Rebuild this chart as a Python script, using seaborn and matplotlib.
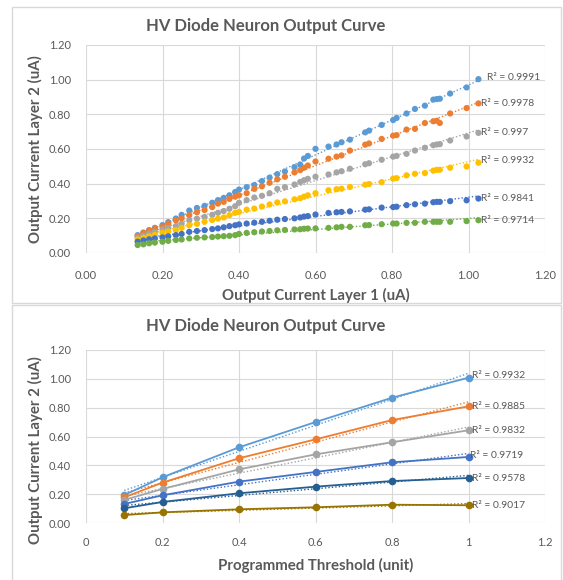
import numpy as np
import pandas as pd
import matplotlib
matplotlib.use("Agg")
import matplotlib.pyplot as plt
from matplotlib.patches import Rectangle
import seaborn as sns

# ---------------- data (top chart) ----------------
layer1_x = [0.135, 0.15, 0.165, 0.18, 0.20, 0.215, 0.235, 0.25, 0.27, 0.29, 0.31, 0.33,
            0.345, 0.36, 0.375, 0.39, 0.40, 0.42, 0.44, 0.46, 0.48, 0.50, 0.52, 0.545,
            0.56, 0.57, 0.58, 0.60, 0.634, 0.655, 0.668, 0.69, 0.73, 0.74, 0.773, 0.803,
            0.812, 0.838, 0.86, 0.886, 0.908, 0.917, 0.925, 0.952, 0.995, 1.026]
s1 = [0.103, 0.118, 0.132, 0.145, 0.161, 0.178, 0.199, 0.22, 0.245, 0.26, 0.272, 0.29,
      0.305, 0.318, 0.333, 0.352, 0.366, 0.38, 0.392, 0.415, 0.435, 0.455, 0.47, 0.495,
      0.51, 0.545, 0.56, 0.601, 0.614, 0.626, 0.639, 0.654, 0.696, 0.706, 0.739, 0.767,
      0.779, 0.805, 0.831, 0.85, 0.885, 0.888, 0.89, 0.92, 0.955, 1.003]
s2 = [0.098, 0.115, 0.13, 0.14, 0.152, 0.17, 0.188, 0.2, 0.218, 0.235, 0.248, 0.265,
      0.285, 0.295, 0.312, 0.325, 0.333, 0.345, 0.37, 0.385, 0.405, 0.425, 0.44, 0.465,
      0.478, 0.492, 0.505, 0.528, 0.544, 0.556, 0.563, 0.591, 0.625, 0.632, 0.658, 0.677,
      0.68, 0.712, 0.716, 0.75, 0.76, 0.763, 0.75, 0.805, 0.836, 0.863]
s3 = [0.088, 0.1, 0.112, 0.122, 0.136, 0.145, 0.155, 0.168, 0.188, 0.198, 0.208, 0.22,
      0.232, 0.242, 0.255, 0.27, 0.29, 0.305, 0.32, 0.33, 0.345, 0.37, 0.38, 0.395,
      0.41, 0.42, 0.428, 0.44, 0.453, 0.465, 0.472, 0.486, 0.512, 0.518, 0.538, 0.556,
      0.56, 0.572, 0.591, 0.607, 0.622, 0.626, 0.628, 0.649, 0.672, 0.693]
s4 = [0.078, 0.088, 0.097, 0.105, 0.117, 0.124, 0.132, 0.145, 0.16, 0.168, 0.18, 0.19,
      0.198, 0.205, 0.218, 0.232, 0.237, 0.25, 0.256, 0.268, 0.28, 0.292, 0.298, 0.31,
      0.316, 0.325, 0.333, 0.345, 0.362, 0.368, 0.371, 0.381, 0.394, 0.398, 0.409, 0.429,
      0.432, 0.448, 0.457, 0.461, 0.475, 0.48, 0.48, 0.492, 0.499, 0.521]
s5 = [0.065, 0.072, 0.079, 0.084, 0.09, 0.096, 0.103, 0.11, 0.122, 0.127, 0.132, 0.138,
      0.142, 0.148, 0.155, 0.16, 0.165, 0.17, 0.175, 0.18, 0.186, 0.192, 0.196, 0.2,
      0.205, 0.21, 0.213, 0.222, 0.231, 0.235, 0.237, 0.24, 0.25, 0.252, 0.262, 0.265,
      0.267, 0.276, 0.281, 0.285, 0.293, 0.295, 0.295, 0.299, 0.304, 0.314]
s6 = [0.046, 0.05, 0.056, 0.06, 0.065, 0.07, 0.075, 0.078, 0.084, 0.088, 0.09, 0.092,
      0.095, 0.097, 0.099, 0.103, 0.11, 0.116, 0.12, 0.124, 0.127, 0.131, 0.133, 0.136,
      0.137, 0.14, 0.141, 0.142, 0.145, 0.148, 0.151, 0.151, 0.16, 0.161, 0.166, 0.17,
      0.17, 0.174, 0.174, 0.18, 0.18, 0.18, 0.18, 0.18, 0.184, 0.189]
top_series = [s1, s2, s3, s4, s5, s6]
top_r2 = ["0.9991", "0.9978", "0.997", "0.9932", "0.9841", "0.9714"]

# ---------------- data (bottom chart) ----------------
threshold_x = [0.1, 0.2, 0.4, 0.6, 0.8, 1.0]
b1 = [0.194, 0.317, 0.525, 0.700, 0.869, 1.008]
b2 = [0.178, 0.280, 0.449, 0.580, 0.714, 0.809]
b3 = [0.160, 0.236, 0.372, 0.476, 0.560, 0.643]
b4 = [0.132, 0.192, 0.287, 0.354, 0.421, 0.458]
b5 = [0.102, 0.146, 0.206, 0.252, 0.291, 0.312]
b6 = [0.055, 0.074, 0.095, 0.109, 0.127, 0.123]
bottom_series = [b1, b2, b3, b4, b5, b6]
bottom_r2 = ["0.9932", "0.9885", "0.9832", "0.9719", "0.9578", "0.9017"]

title = "HV Diode Neuron Output Curve"
y_label = "Output Current Layer 2 (uA)"
top_xlabel = "Output Current Layer 1 (uA)"
bottom_xlabel = "Programmed Threshold (unit)"
y_ticks = [0.0, 0.2, 0.4, 0.6, 0.8, 1.0, 1.2]

# ---------------- style ----------------
top_colors = ["#5B9BD5", "#ED7D31", "#A5A5A5", "#FFC000", "#4472C4", "#70AD47"]
bottom_colors = ["#5B9BD5", "#ED7D31", "#A5A5A5", "#4472C4", "#255E91", "#997300"]
top_label_off = [(9, 2), (3, 0), (3, 0), (3, 2), (3, 0), (3, 0)]
bottom_label_off = [(4, 2), (4, 0), (4, 0), (2, 1), (4, 0), (4, 0)]
TXT = "#595959"
GRID = "#D9D9D9"
W, H = 563, 580

sns.set_theme(style="white")
plt.rcParams["font.family"] = ["Lato", "DejaVu Sans"]

fig = plt.figure(figsize=(W / 100, H / 100), dpi=100)

# panel borders
fig.patches.append(Rectangle((12 / W, 1 - 303 / H), 549 / W, 296 / H,
                             transform=fig.transFigure, fill=False, edgecolor=GRID, lw=1))
fig.patches.append(Rectangle((12 / W, -0.01), 549 / W, 1 - 305 / H + 0.01,
                             transform=fig.transFigure, fill=False, edgecolor=GRID, lw=1))

ax1 = fig.add_axes([86 / W, 1 - 253 / H, (545 - 86) / W, (253 - 45) / H])
ax2 = fig.add_axes([86 / W, 1 - 523 / H, (545 - 86) / W, (523 - 350) / H])


def style_axes(ax, xticklabels):
    ax.set_xlim(0, 1.2)
    ax.set_ylim(0, 1.2)
    ax.set_xticks(y_ticks)
    ax.set_xticklabels(xticklabels)
    ax.set_yticks(y_ticks)
    ax.set_yticklabels([f"{v:.2f}" for v in y_ticks])
    ax.grid(True, color=GRID, lw=0.8)
    ax.set_axisbelow(True)
    for s in ax.spines.values():
        s.set_visible(False)
    ax.tick_params(axis="both", length=0, labelsize=8, colors=TXT)
    ax.tick_params(axis="y", pad=11)
    ax.set_ylabel(y_label, fontsize=10.8, fontweight="bold", color=TXT, labelpad=2)


# ---------------- top chart ----------------
rows = []
for i, ys in enumerate(top_series):
    for xv, yv in zip(layer1_x, ys):
        rows.append({"x": xv, "y": yv, "s": f"S{i}"})
df_top = pd.DataFrame(rows)
sns.scatterplot(data=df_top, x="x", y="y", hue="s", palette=top_colors, s=20,
                edgecolor="none", legend=False, ax=ax1, zorder=3)
xx = np.array([min(layer1_x), max(layer1_x)])
for i, ys in enumerate(top_series):
    k, b = np.polyfit(layer1_x, ys, 1)
    ax1.plot(xx, k * xx + b, ls=(0, (1, 1.5)), lw=1.0, color=top_colors[i], zorder=2)
    ax1.annotate(f"R² = {top_r2[i]}", (layer1_x[-1], ys[-1]), xytext=top_label_off[i],
                 textcoords="offset pixels", ha="left", va="center", fontsize=7.4, color=TXT)
style_axes(ax1, ["0.00", "0.20", "0.40", "0.60", "0.80", "1.00", "1.20"])
ax1.tick_params(axis="x", pad=12)
ax1.set_xlabel(top_xlabel, fontsize=10.8, fontweight="bold", color=TXT, labelpad=5)
fig.text(266 / W, 1 - 26 / H, title, ha="center", va="center", fontsize=12,
         fontweight="bold", color=TXT)

# ---------------- bottom chart ----------------
rows = []
for i, ys in enumerate(bottom_series):
    for xv, yv in zip(threshold_x, ys):
        rows.append({"x": xv, "y": yv, "s": f"B{i}"})
df_bot = pd.DataFrame(rows)
sns.lineplot(data=df_bot, x="x", y="y", hue="s", palette=bottom_colors, marker="o",
             markersize=5.5, markeredgewidth=0, lw=1.3, legend=False, ax=ax2, zorder=3)
xx = np.array([min(threshold_x), max(threshold_x)])
for i, ys in enumerate(bottom_series):
    k, b = np.polyfit(threshold_x, ys, 1)
    ax2.plot(xx, k * xx + b, ls=(0, (1, 1.5)), lw=1.0, color=bottom_colors[i], zorder=2)
    ax2.annotate(f"R² = {bottom_r2[i]}", (threshold_x[-1], ys[-1]), xytext=bottom_label_off[i],
                 textcoords="offset pixels", ha="left", va="center", fontsize=7.4, color=TXT)
style_axes(ax2, ["0", "0.2", "0.4", "0.6", "0.8", "1", "1.2"])
ax2.tick_params(axis="x", pad=10)
ax2.set_xlabel(bottom_xlabel, fontsize=10.8, fontweight="bold", color=TXT, labelpad=7)
ax2.yaxis.set_label_coords(-0.094, 0.42)
ax1.yaxis.set_label_coords(-0.094, 0.5)
fig.text(266 / W, 1 - 326 / H, title, ha="center", va="center", fontsize=12,
         fontweight="bold", color=TXT)

fig.savefig("out.png", dpi=100)
